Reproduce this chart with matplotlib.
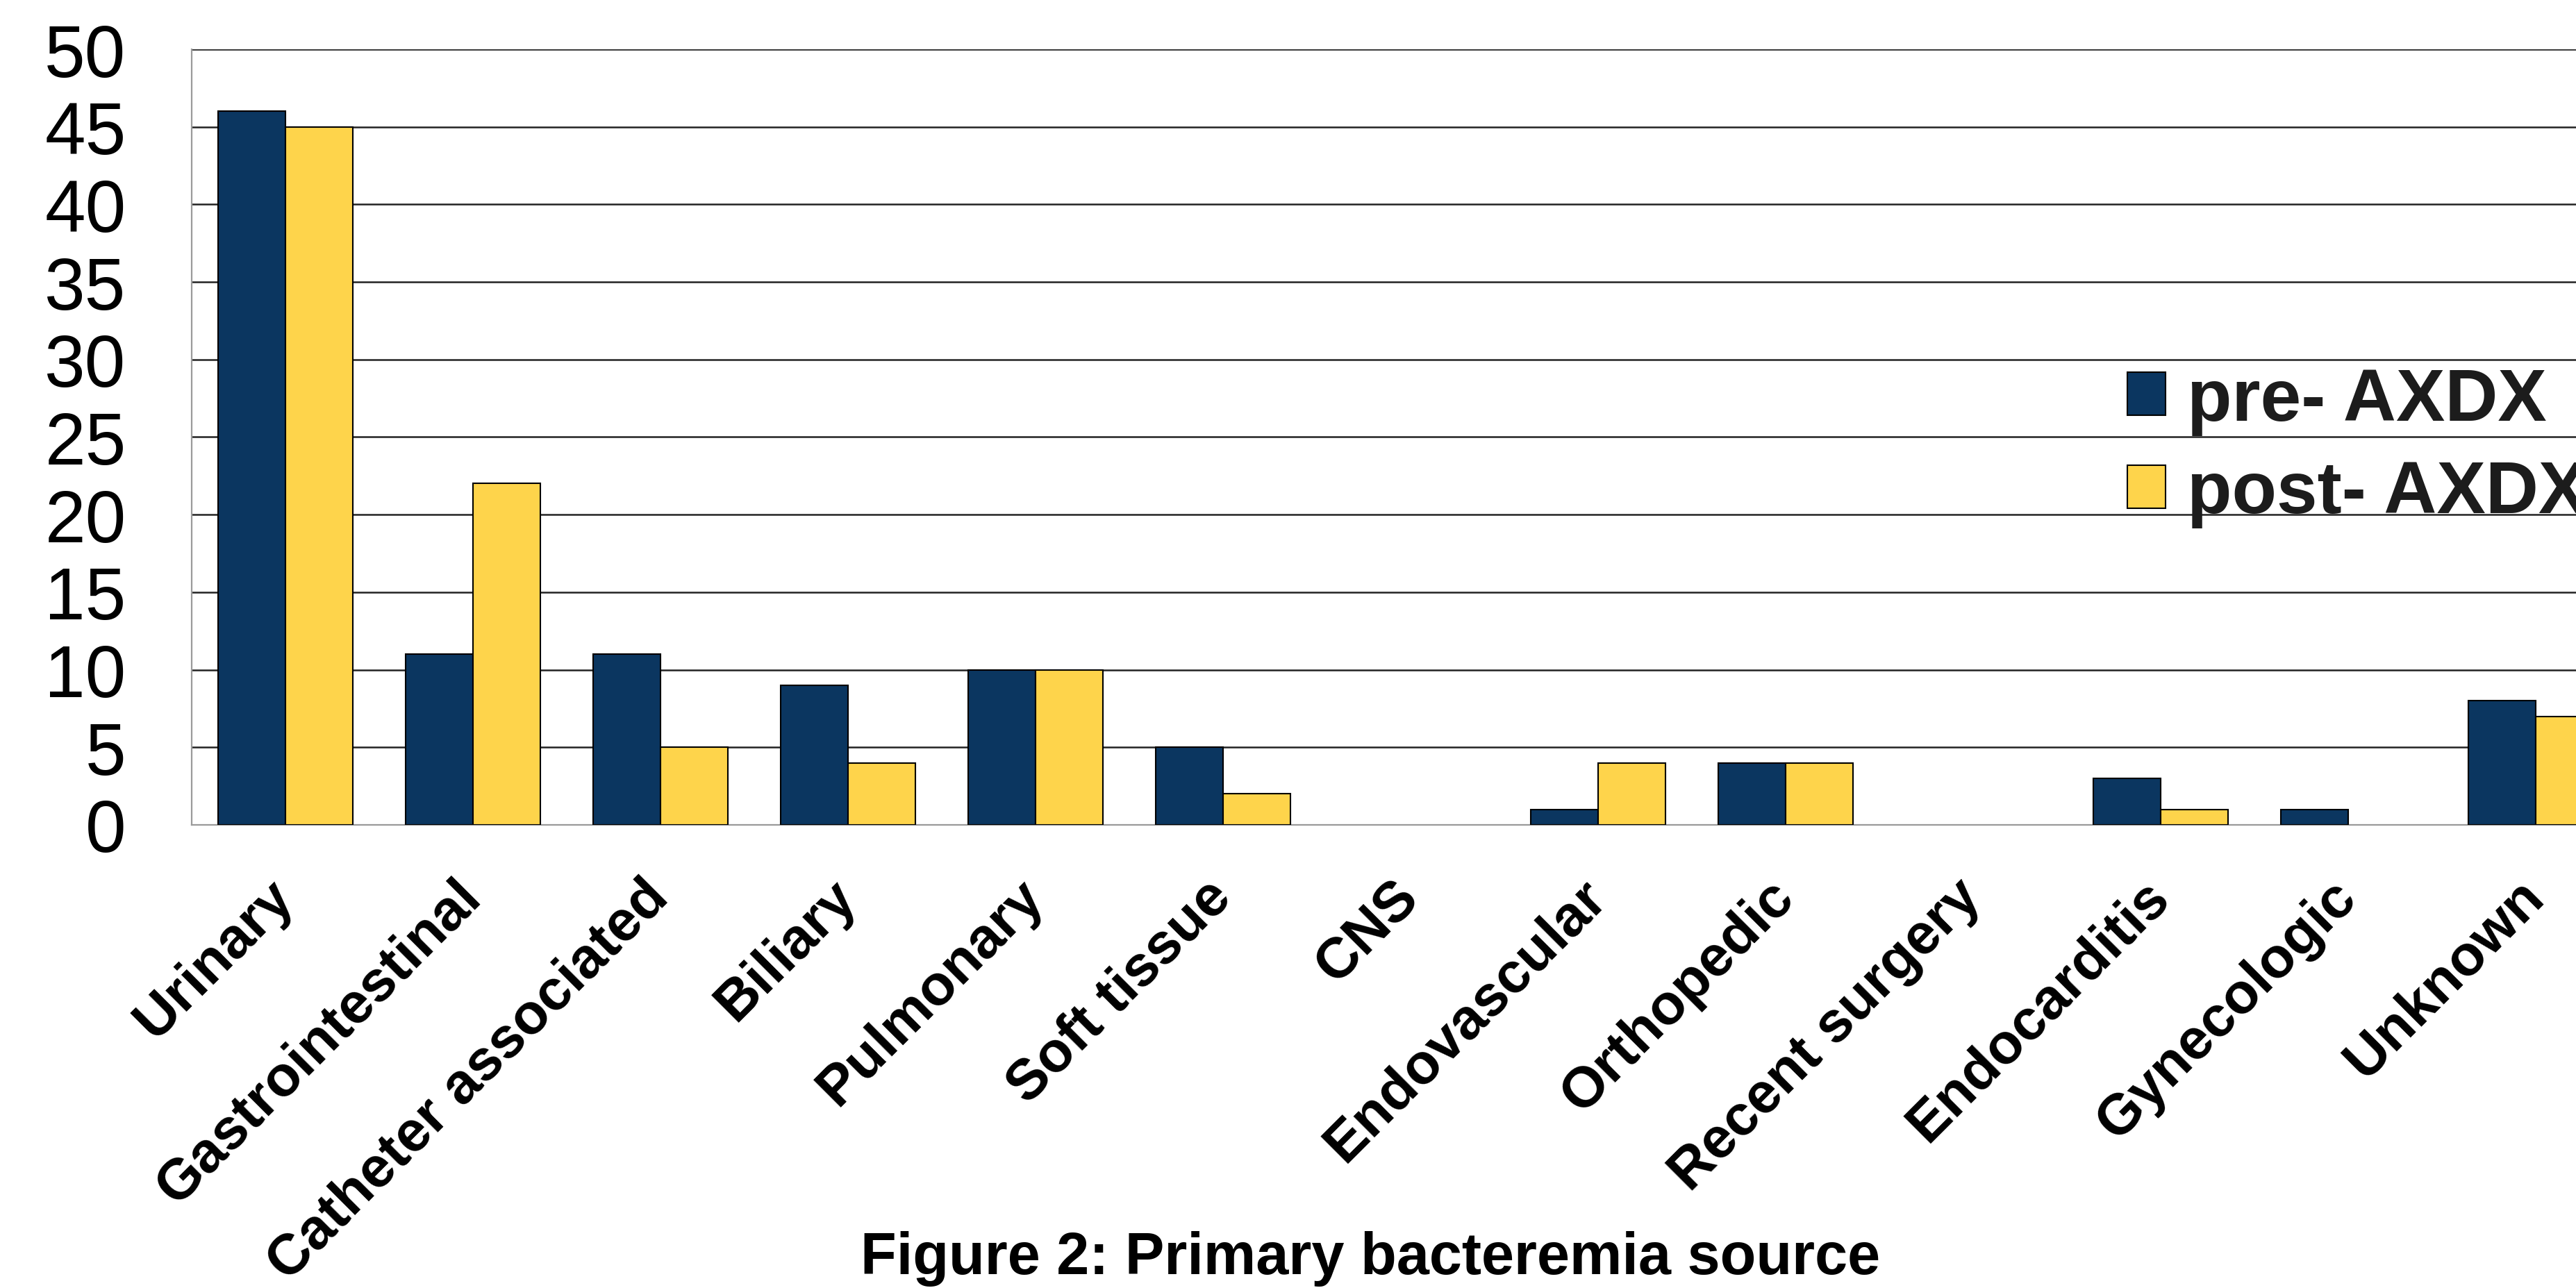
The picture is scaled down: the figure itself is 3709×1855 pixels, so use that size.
import numpy as np
import matplotlib.pyplot as plt

plt.rcParams['font.family'] = ['Liberation Sans', 'DejaVu Sans']

sources = ['Urinary', 'Gastrointestinal', 'Catheter associated', 'Biliary',
           'Pulmonary', 'Soft tissue', 'CNS', 'Endovascular', 'Orthopedic',
           'Recent surgery', 'Endocarditis', 'Gynecologic', 'Unknown']
pre_axdx = [46, 11, 11, 9, 10, 5, 0, 1, 4, 0, 3, 1, 8]
post_axdx = [45, 22, 5, 4, 10, 2, 0, 4, 4, 0, 1, 0, 7]
series_names = ['pre- AXDX', 'post- AXDX']
y_ticks = [0, 5, 10, 15, 20, 25, 30, 35, 40, 45, 50]

navy = '#0b3660'
gold = '#fed44b'

fig = plt.figure(figsize=(37.09, 18.56), dpi=100)
# plot area runs past the right edge of the canvas
ax = fig.add_axes([0.0744, 0.3594, 0.9464, 0.6018])

x = np.arange(len(sources))
w = 0.36
for offset, vals, col, name in [(-w / 2, pre_axdx, navy, series_names[0]),
                                (w / 2, post_axdx, gold, series_names[1])]:
    bars = ax.bar(x + offset, vals, w, color=col, edgecolor='black',
                  linewidth=1.5, label=name, zorder=3)
    # empty categories show no outline
    for b, v in zip(bars, vals):
        if v == 0:
            b.set_linewidth(0)

ax.set_xlim(-0.5, len(sources) - 0.5)
ax.set_ylim(0, 50)
ax.set_yticks(y_ticks)
ax.set_yticklabels([str(t) for t in y_ticks], fontsize=76)
ax.tick_params(axis='y', length=0, pad=68)

ax.set_xticks(x)
ax.set_xticklabels(sources, fontsize=59, fontweight='bold', rotation=45,
                   ha='right', va='center', rotation_mode='anchor')
ax.tick_params(axis='x', length=0, pad=66)

ax.yaxis.grid(True, color='#222222', linewidth=1.8, zorder=0)
ax.set_axisbelow(True)
for side in ['top', 'right']:
    ax.spines[side].set_visible(False)
ax.spines['left'].set_color('#9a9a9a')
ax.spines['bottom'].set_color('#9a9a9a')
ax.spines['left'].set_linewidth(1.6)
ax.spines['bottom'].set_linewidth(1.6)

leg = ax.legend(loc='center left', bbox_to_anchor=(0.8258, 0.6525),
                bbox_transform=fig.transFigure, frameon=False,
                prop={'size': 76, 'weight': 'bold'}, handlelength=0.52,
                handleheight=0.52, handletextpad=0.3, labelspacing=0.33,
                borderpad=0, borderaxespad=0)
for t in leg.get_texts():
    t.set_color('#1c1c1c')

fig.text(0.532, 1 - 1835 / 1856, 'Figure 2: Primary bacteremia source',
         fontsize=61, fontweight='bold', ha='center', va='baseline')

fig.savefig('out.png', dpi=100)
